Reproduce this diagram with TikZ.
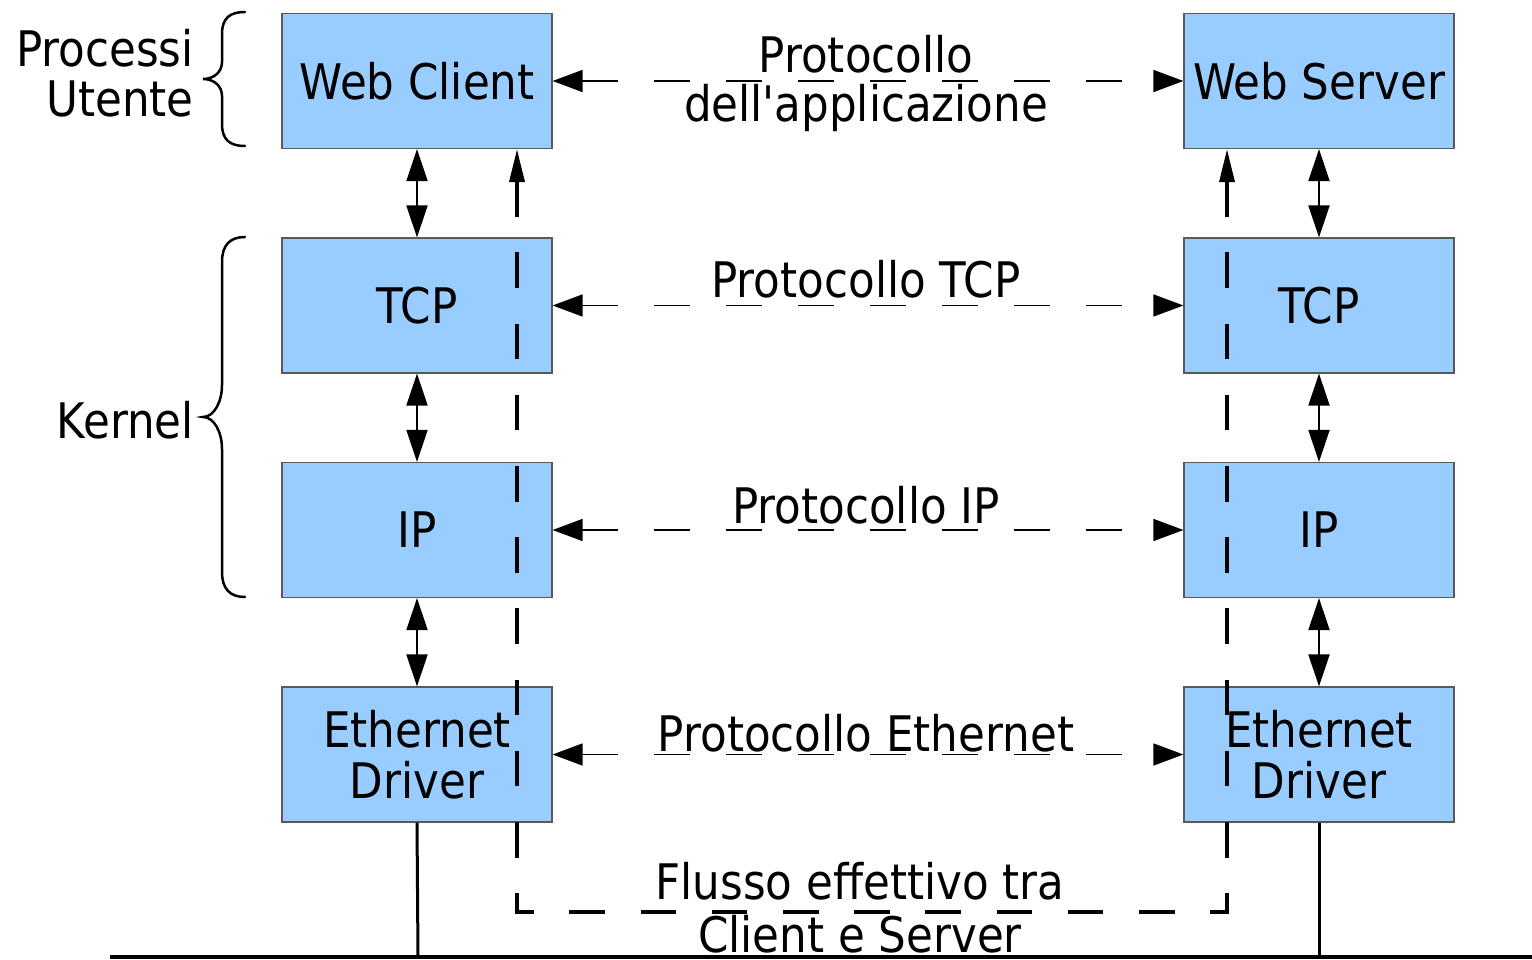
\documentclass[tikz,border=0pt]{standalone}
\usepackage{fontspec}
\setmainfont{DejaVu Sans}[FakeStretch=0.89,Ligatures=TeXOff]
\usetikzlibrary{arrows.meta}
\definecolor{boxblue}{HTML}{99CCFF}
\begin{document}
\begin{tikzpicture}[x=1pt,y=-1pt,
  font=\fontsize{49}{51}\selectfont,
  layer/.style={draw=black!65, line width=1.2pt, fill=boxblue, minimum width=270pt, minimum height=135pt, inner sep=0pt, align=center},
  vlink/.style={line width=2pt, {Triangle[length=32pt,width=21pt]}-{Triangle[length=32pt,width=21pt]}},
  proto/.style={line width=1.5pt, dash pattern=on 36pt off 36pt, {Triangle[length=30pt,width=22pt]}-{Triangle[length=30pt,width=22pt]}},
  flow/.style={line width=3.5pt, dash pattern=on 35.6pt off 35.6pt, {Triangle[length=33pt,width=15pt]}-{Triangle[length=33pt,width=15pt]}},
  wire/.style={line width=3pt},
  bracestyle/.style={line width=2.5pt, line cap=round},
  lbl/.style={inner sep=0pt}
]
\useasboundingbox (0,0) rectangle (1532,960);

% boxes
\node[layer] (wc)   at (417,81)    {Web Client};
\node[layer] (tcpc) at (417,305.5) {TCP};
\node[layer] (ipc)  at (417,530)   {IP};
\node[layer] (ethc) at (417,754.5) {Ethernet\\Driver};
\node[layer] (ws)   at (1319,81)    {Web Server};
\node[layer] (tcps) at (1319,305.5) {TCP};
\node[layer] (ips)  at (1319,530)   {IP};
\node[layer] (eths) at (1319,754.5) {Ethernet\\Driver};

% vertical stack links
\draw[vlink] (wc) -- (tcpc);
\draw[vlink] (tcpc) -- (ipc);
\draw[vlink] (ipc) -- (ethc);
\draw[vlink] (ws) -- (tcps);
\draw[vlink] (tcps) -- (ips);
\draw[vlink] (ips) -- (eths);

% peer protocols
\draw[proto] (wc) -- (ws);
\draw[proto] (tcpc) -- (tcps);
\draw[proto] (ipc) -- (ips);
\draw[proto] (ethc) -- (eths);

% actual flow
\coordinate (fl) at ([xshift=100pt]wc.south);
\coordinate (fr) at ([xshift=-92pt]ws.south);
\coordinate (flc) at (517,912);
\coordinate (frc) at (1227,912);
\draw[flow] (fl) -- (flc) -- (frc) -- (fr);

% wire
\coordinate (g0) at (110,957);
\coordinate (g1) at (1532,957);
\coordinate (gl) at (418,957);
\coordinate (gr) at (1319,957);
\draw[wire] (ethc.south) -- (gl);
\draw[wire] (eths.south) -- (gr);
\draw[line width=3.5pt] (g0) -- (g1);

% braces
\draw[bracestyle] (245,12) .. controls (230,12) and (222,18) .. (222,34)
  -- (222,62) .. controls (222,72) and (214,79) .. (203,79)
  .. controls (214,79) and (222,86) .. (222,96)
  -- (222,124) .. controls (222,140) and (230,146) .. (245,146);
\draw[bracestyle] (245,237) .. controls (230,237) and (222,245) .. (222,262)
  -- (222,385) .. controls (222,402) and (214,417) .. (203,417)
  .. controls (214,417) and (222,432) .. (222,449)
  -- (222,572) .. controls (222,589) and (230,597) .. (245,597);

% labels
\node[lbl, anchor=base east, align=right, font=\fontsize{49}{50}\selectfont] (pu) at (194,117) {Processi\\Utente};
\node[lbl, anchor=base east] (kern) at (194,438) {Kernel};
\node[lbl, anchor=base, align=center, font=\fontsize{49}{49}\selectfont] (pa) at (866,122) {Protocollo\\dell'applicazione};
\node[lbl, anchor=base] (ptcp) at (866,298) {Protocollo TCP};
\node[lbl, anchor=base] (pip) at (866,523) {Protocollo IP};
\node[lbl, anchor=base] (peth) at (866,751) {Protocollo Ethernet};
\node[lbl, anchor=base, align=center, font=\fontsize{49}{53}\selectfont] (fx) at (860,952) {Flusso effettivo tra\\Client e Server};
\end{tikzpicture}
\end{document}
